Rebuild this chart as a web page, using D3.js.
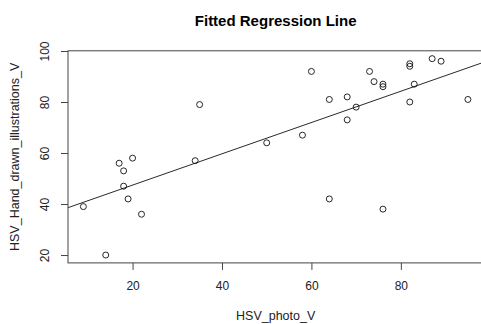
<!DOCTYPE html>
<html lang="en">
  <head>
    <meta charset="UTF-8" />
    <title>Fitted Regression Line</title>
    <script src="https://d3js.org/d3.v7.min.js"></script>
    <style>
      body {
        margin: 0;
        background: white;
      }
      svg {
        display: block;
        font-family: "Liberation Sans", Arial, Helvetica, sans-serif;
      }
    </style>
  </head>
  <body>
    <svg id="chart" width="481" height="324"></svg>

    <script>
      const photoV = [
        9, 14, 17, 18, 18, 19, 20, 22, 34, 35, 50, 58, 60, 64, 64, 68, 68, 70,
        73, 74, 76, 76, 76, 82, 82, 82, 83, 87, 89, 95,
      ];
      const handV = [
        39, 20, 56, 53, 47, 42, 58, 36, 57, 79, 64, 67, 92, 81, 42, 82, 73, 78,
        92, 88, 87, 86, 38, 95, 94, 80, 87, 97, 96, 81,
      ];
      const xTicks = [20, 40, 60, 80];
      const yTicks = [20, 40, 60, 80, 100];

      const svg = d3.select("#chart");

      // R-style 4% padding of the data range
      function pad(ext) {
        const d = (ext[1] - ext[0]) * 0.04;
        return [ext[0] - d, ext[1] + d];
      }

      const plotL = 68,
        plotR = 483.3,
        plotT = 50.8,
        plotB = 262.9;

      const x = d3.scaleLinear().domain(pad(d3.extent(photoV))).range([plotL, plotR]);
      const y = d3.scaleLinear().domain(pad(d3.extent(handV))).range([plotB, plotT]);

      // least squares fit
      const mx = d3.mean(photoV),
        my = d3.mean(handV);
      let sxy = 0,
        sxx = 0;
      photoV.forEach((v, i) => {
        sxy += (v - mx) * (handV[i] - my);
        sxx += (v - mx) * (v - mx);
      });
      const slope = sxy / sxx;
      const intercept = my - slope * mx;

      svg
        .append("text")
        .attr("x", (plotL + plotR) / 2)
        .attr("y", 26)
        .attr("text-anchor", "middle")
        .attr("font-weight", "bold")
        .attr("font-size", 15)
        .text("Fitted Regression Line");

      svg
        .append("clipPath")
        .attr("id", "plot")
        .append("rect")
        .attr("x", plotL)
        .attr("y", plotT)
        .attr("width", plotR - plotL)
        .attr("height", plotB - plotT);

      const dom = x.domain();
      svg
        .append("line")
        .attr("clip-path", "url(#plot)")
        .attr("x1", x(dom[0]))
        .attr("y1", y(intercept + slope * dom[0]))
        .attr("x2", x(dom[1]))
        .attr("y2", y(intercept + slope * dom[1]))
        .attr("stroke", "#111")
        .attr("stroke-width", 0.9);

      svg
        .append("g")
        .selectAll("circle")
        .data(photoV)
        .join("circle")
        .attr("cx", (d) => x(d))
        .attr("cy", (d, i) => y(handV[i]))
        .attr("r", 3)
        .attr("fill", "none")
        .attr("stroke", "#111")
        .attr("stroke-width", 0.9);

      svg
        .append("rect")
        .attr("x", plotL)
        .attr("y", plotT)
        .attr("width", plotR - plotL)
        .attr("height", plotB - plotT)
        .attr("fill", "none")
        .attr("stroke", "#444")
        .attr("stroke-width", 1);

      const xAxis = svg
        .append("g")
        .attr("transform", `translate(0,${plotB})`)
        .call(d3.axisBottom(x).tickValues(xTicks).tickSize(7).tickPadding(12));
      xAxis.select(".domain").remove();
      xAxis.selectAll("line").attr("stroke", "#444");
      xAxis.selectAll("text").attr("font-size", 12).attr("fill", "#222").attr("font-family", null);

      const yAxis = svg
        .append("g")
        .attr("transform", `translate(${plotL},0)`)
        .call(d3.axisLeft(y).tickValues(yTicks).tickSize(7));
      yAxis.select(".domain").remove();
      yAxis.selectAll("line").attr("stroke", "#444");
      yAxis
        .selectAll("text")
        .attr("font-size", 12)
        .attr("fill", "#222")
        .attr("font-family", null)
        .attr("text-anchor", "middle")
        .attr("x", 0)
        .attr("dy", 0)
        .attr("transform", "translate(-19,0) rotate(-90)");

      svg
        .append("text")
        .attr("x", (plotL + plotR) / 2)
        .attr("y", 320)
        .attr("text-anchor", "middle")
        .attr("font-size", 12.5)
        .attr("fill", "#222")
        .text("HSV_photo_V");

      svg
        .append("text")
        .attr("transform", `translate(19,${(plotT + plotB) / 2}) rotate(-90)`)
        .attr("text-anchor", "middle")
        .attr("font-size", 12.5)
        .attr("fill", "#222")
        .text("HSV_Hand_drawn_illustrations_V");
    </script>
  </body>
</html>
